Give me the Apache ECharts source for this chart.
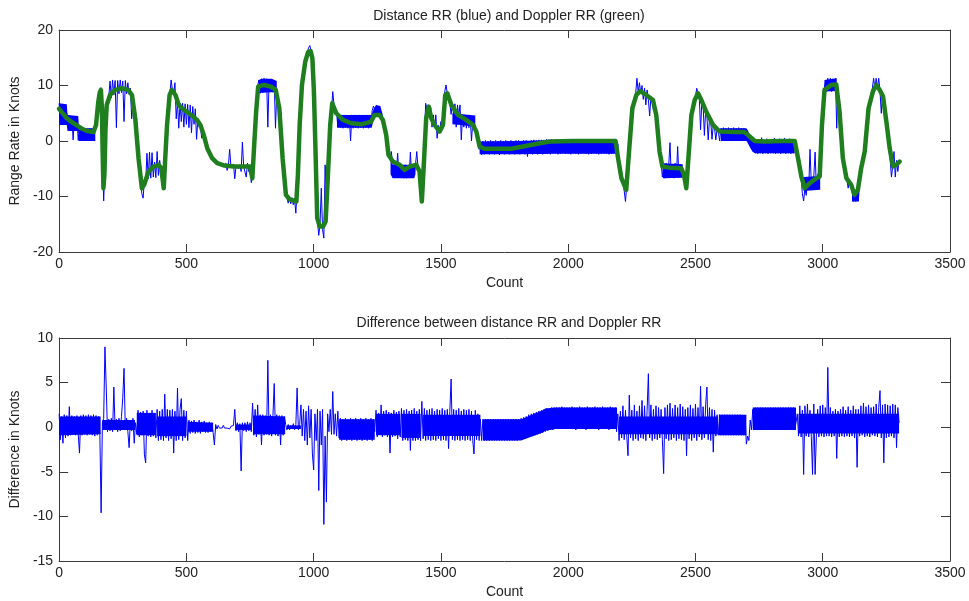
<!DOCTYPE html>
<html>
<head>
<meta charset="utf-8">
<script src="https://cdn.jsdelivr.net/npm/echarts/dist/echarts.min.js"></script>
<style>
html,body{margin:0;padding:0;background:#ffffff;}
#chart{width:969px;height:601px;}
</style>
</head>
<body>
<div id="chart"></div>
<script>
// ---------------- data ----------------
const sampleStep = 5; // counts between samples of the dense series (x = 0, 5, 10 ... 3300)

// Distance range rate (blue), one value per sampleStep counts, 20 values per 100 counts
const distanceRR = [
  6.8, 3.0, 6.5, 3.2, 6.6, 2.9, 5.0, 2.5, 4.6, 1.8, 4.5, 0.2, 4.4, 1.9, 4.2, 0.1, 2.3, 0.2, 2.3, 0.0,
  2.3, 0.1, 2.2, 0.0, 2.3, 0.1, 2.2, 0.0, 2.2, 3.0, 5.5, 7.5, 9.0, 9.6, -3.0, -10.8, -4.5, 4.5, 7.2, 8.0,
  10.8, 7.8, 11.0, 8.3, 10.9, 2.4, 10.9, 8.5, 11.0, 8.7, 10.8, 3.5, 10.9, 8.5, 10.5, 8.4, 9.5, 4.0, 7.0, 5.5,
  3.5, 0.5, -2.0, -5.0, -7.2, -9.5, -10.3, -7.0, -7.5, -2.2, -6.8, -2.0, -6.7, -2.1, -6.5, -3.8, -6.6, -1.9, -6.2, -3.5,
  -5.5, -6.5, -8.8, -5.5, 0.0, 4.0, 7.0, 8.5, 11.0, 9.2, 8.6, 10.5, 4.0, 7.0, 2.3, 6.8, 3.5, 6.8, 2.5, 6.7,
  3.0, 6.6, 2.4, 6.5, 1.5, 6.2, 3.0, 5.8, 0.3, 4.0, 2.5, 2.9, 0.5, 1.5, 0.8, -0.3, -1.2, -1.8, -2.3, -2.7,
  -3.1, -3.4, -3.6, -3.8, -4.0, -4.1, -4.2, -4.3, -4.4, -4.4, -4.5, -4.0, -5.3, -4.4, -1.5, -4.6, -4.8, -4.2, -6.8, -4.5,
  -4.2, -5.0, -4.3, -5.5, -0.2, -4.6, -4.5, -6.5, -4.0, -5.5, -4.6, -7.5, -6.0, -1.0, 3.0, 6.0, 10.0, 11.0, 8.6, 11.2,
  8.7, 11.3, 8.8, 11.2, 2.5, 11.0, 8.9, 11.1, 8.8, 10.8, 2.3, 9.0, 7.5, 5.5, 1.5, -1.0, -4.5, -7.0, -9.5, -10.2,
  -11.2, -10.0, -11.3, -10.2, -11.5, -10.5, -13.0, -8.5, -4.0, 2.9, 7.5, 10.5, 12.5, 14.0, 15.0, 16.0, 16.8, 17.2, 17.0, 15.0,
  10.0, 2.0, -8.0, -14.5, -17.0, -15.0, -8.5, -16.0, -17.5, -4.3, -11.0, -6.5, -3.0, 2.0, 5.5, 8.9, 6.5, 4.7, 5.2, 2.5,
  4.7, 2.4, 4.7, 2.3, 4.7, 2.4, 4.7, 2.3, 4.6, 0.0, 4.7, 2.3, 4.7, 2.4, 4.7, 2.3, 4.7, 2.4, 4.7, 2.3,
  4.7, 2.4, 4.7, 2.3, 4.7, 3.0, 5.5, 6.3, 6.5, 5.0, 6.3, 5.0, 5.8, 4.5, 4.2, 3.0, 2.0, 0.8, -1.0, -2.8,
  -3.3, -1.9, -3.8, -5.0, -4.0, -5.5, -2.2, -6.0, -4.3, -6.5, -4.4, -6.7, -4.3, -6.7, -4.5, -6.6, -2.0, -6.5, -4.3, -6.0,
  -4.3, -1.9, -4.8, -5.6, -8.0, -10.9, -6.0, 0.5, 6.8, 5.8, 6.2, 4.3, 6.0, 2.5, 4.7, 2.4, 4.7, 0.5, 2.8, 1.7,
  3.5, 2.0, 5.0, 8.9, 10.1, 8.6, 7.8, 6.8, 4.8, 6.8, 4.7, 6.7, 2.5, 6.5, 4.6, 6.5, 0.2, 4.7, 2.5, 4.7,
  2.3, 4.6, 2.4, 4.5, 0.0, 3.5, 2.3, 2.8, 1.0, -0.5, -1.5, 0.0, -2.5, 0.0, -2.4, 0.1, -2.3, 0.0, -2.4, 0.1,
  -2.3, 0.0, -2.4, 0.1, -2.3, 0.0, -2.5, 0.1, -2.3, 0.0, -2.4, 0.1, -2.3, 0.0, -2.4, 0.1, -2.3, 0.0, -2.4, 0.1,
  -2.3, 0.1, -2.4, 0.0, -2.3, 0.1, -2.4, 0.1, -2.8, 0.0, -2.3, 0.1, -2.4, 0.2, -2.3, 0.1, -2.4, 0.2, -2.3, 0.2,
  -2.4, 0.2, -2.3, 0.3, -2.3, 0.2, -2.4, 0.3, -2.2, 0.2, -2.3, 0.3, -2.4, 0.2, -2.3, 0.3, -2.2, 0.2, -2.3, 0.3,
  -2.3, 0.2, -2.4, 0.3, -2.2, 0.2, -2.3, 0.3, -2.4, 0.2, -2.3, 0.3, -2.2, 0.2, -2.3, 0.3, -2.4, 0.2, -2.3, 0.3,
  -2.2, 0.2, -2.3, 0.3, -2.4, 0.2, -2.3, 0.3, -2.2, 0.2, -2.3, 0.3, -2.4, 0.2, -2.3, 0.3, -2.2, 0.2, -2.3, -0.5,
  -4.0, -5.5, -7.0, -7.5, -9.0, -10.9, -8.0, -5.0, -1.0, 2.5, 5.5, 7.0, 8.0, 8.5, 11.3, 8.8, 10.5, 8.5, 10.0, 7.5,
  9.5, 6.5, 9.2, 7.5, 4.5, 8.0, 7.2, 5.5, 6.5, 4.0, 1.5, -0.5, -2.5, -4.0, -6.5, -4.2, -6.7, -4.0, -6.5, -4.3,
  -0.3, -6.6, -4.2, -6.7, -4.0, -6.5, -1.0, -6.6, -4.2, -6.0, -5.5, -6.5, -7.5, -8.8, -5.0, -1.5, 2.5, 5.0, 6.5, 7.2,
  8.0, 9.5, 8.6, 8.0, 2.0, 7.0, 6.5, 1.0, 5.5, 4.5, 0.2, 4.0, 3.5, 0.3, 2.9, 2.3, 0.2, 2.2, 1.7, 0.0,
  2.3, 0.0, 2.4, 0.0, 2.3, 0.1, 2.4, 0.0, 2.3, 0.0, 2.4, 0.1, 2.3, 0.0, 2.4, 0.1, 2.3, 0.0, 2.3, 0.2,
  2.0, 0.0, 1.2, -0.8, 0.3, -1.8, 0.2, -2.2, 0.3, -2.3, 0.2, -2.2, 0.6, -2.3, 0.2, -2.2, 0.4, -2.3, 0.2, -2.2,
  0.3, -2.2, 0.5, -2.3, 0.2, -2.2, 0.4, -2.3, 0.2, -2.2, 0.5, -2.3, 0.2, -2.2, 0.4, -2.3, 0.2, -2.2, 0.1, -1.5,
  -2.5, -4.0, -5.5, -6.5, -9.5, -10.8, -8.5, -9.8, -6.8, -8.5, -1.5, -7.5, -8.8, -6.3, -2.0, -8.5, -6.0, -8.5, -1.9, -2.0,
  5.0, 9.0, 11.0, 8.9, 11.3, 9.0, 11.3, 8.9, 11.2, 9.0, 11.3, 2.3, 9.5, 5.0, 2.0, -1.0, -3.5, -5.0, -6.0, -7.0,
  -8.5, -7.0, -8.0, -9.0, -10.9, -9.0, -10.9, -9.2, -10.8, -7.5, -5.5, -3.0, -2.5, -1.0, 2.5, 4.5, 6.0, 7.0, 8.5, 9.5,
  11.3, 9.5, 11.3, 9.5, 11.3, 9.0, 5.0, 8.5, 7.5, 4.0, 3.0, 0.5, -1.5, -3.5, -6.5, -4.5, -1.9, -6.5, -3.5, -5.5,
  -3.5
];

// Envelope of the densely oscillating parts of the distance trace: [count, low, high]
const distanceBands = [
  [[0,2.9,6.8],[30,2.9,6.6],[33,1.8,4.7],[75,1.8,4.5],[78,0.0,2.3],[142,0.0,2.3]],
  [[785,8.6,11.0],[795,8.7,11.2],[835,8.8,11.2],[855,8.8,10.8]],
  [[1092,2.4,4.7],[1228,2.4,4.7],[1236,4.0,5.8],[1245,4.5,6.5],[1262,4.5,6.3],[1272,3.8,4.6]],
  [[1302,-6.0,-3.6],[1310,-6.7,-4.3],[1395,-6.7,-4.3],[1400,-6.0,-4.3]],
  [[1545,3.0,5.0],[1635,2.6,4.6]],
  [[1652,-2.4,-0.1],[1800,-2.4,0.0],[1950,-2.3,0.2],[2190,-2.3,0.2]],
  [[2372,-6.7,-4.0],[2450,-6.6,-4.2]],
  [[2600,0.0,2.3],[2700,0.0,2.3],[2705,-0.3,2.0],[2715,-1.2,1.0],[2725,-2.0,0.3],[2735,-2.2,0.2],[2890,-2.2,0.2]],
  [[2925,-9.0,-6.5],[2990,-8.8,-6.3]],
  [[3008,8.9,11.0],[3055,9.0,11.3]],
  [[3115,-10.9,-9.0],[3142,-10.9,-9.0]]
];

// Doppler range rate (green), [count, knots]
const dopplerRR = [
  [0,5.8],[10,5.2],[30,4.1],[50,3.4],[70,2.8],[90,2.2],[110,1.8],[135,1.6],[145,2.9],[154,7.1],
  [160,8.8],[164,9.2],[168,6],[171,-2],[174,-8.5],[178,-6],[182,2],[187,6.5],[200,8.3],[220,9.2],
  [246,9.5],[272,9.2],[286,8.3],[299,4.1],[312,-3.1],[325,-8.5],[334,-7.9],[351,-5.5],[371,-4.6],[391,-4.3],
  [401,-4.9],[407,-7],[411,-8.5],[417,-3],[424,2.9],[434,8.3],[443,9.2],[457,8.3],[470,6.5],[490,5.6],
  [516,4.8],[542,3.8],[555,2.9],[568,1.1],[582,-1.3],[601,-3.1],[621,-4.0],[647,-4.4],[687,-4.6],[726,-4.6],
  [750,-4.6],[759,-6.7],[766,-1],[774,5.3],[782,9.8],[805,10.1],[832,9.8],[851,9.2],[865,5.9],[878,-3.1],
  [891,-9.7],[905,-10.5],[932,-10.9],[938,-6.1],[945,2.9],[954,10.1],[967,14.3],[978,16.0],[988,16.2],[995,14.9],
  [1001,8.9],[1008,-3.1],[1014,-13.9],[1024,-15.4],[1037,-15.4],[1047,-14.5],[1056,-6.1],[1065,2.9],[1073,6.8],[1089,5.0],
  [1115,3.8],[1148,3.2],[1187,3.0],[1226,3.5],[1239,4.7],[1259,4.7],[1272,3.8],[1285,1.1],[1294,-2.5],[1311,-3.7],
  [1338,-4.3],[1357,-5.2],[1377,-4.6],[1403,-4.3],[1416,-5.5],[1425,-10.9],[1433,-4],[1442,4.1],[1452,6.2],[1462,4.1],
  [1475,2.9],[1495,1.7],[1508,2.9],[1517,8.3],[1525,8.6],[1541,6.5],[1567,4.7],[1599,3.8],[1626,2.9],[1639,1.7],
  [1652,-1.0],[1671,-1.4],[1776,-1.4],[1822,-1.0],[1888,-0.4],[1927,-0.1],[2019,0],[2186,0],[2196,-3.1],[2209,-6.7],
  [2228,-8.8],[2239,-1.9],[2252,5.9],[2268,8.3],[2283,9.0],[2307,8.3],[2333,7.4],[2346,4.7],[2359,-1.9],[2370,-4.6],
  [2398,-4.8],[2444,-4.9],[2455,-6.1],[2464,-8.5],[2474,-1.9],[2484,4.7],[2497,7.4],[2510,8.6],[2523,7.4],[2542,5.3],
  [2569,2.9],[2595,1.7],[2660,1.6],[2693,1.6],[2713,0.8],[2733,0],[2772,-0.1],[2837,0],[2890,0],[2903,-3.1],
  [2916,-6.4],[2929,-8.5],[2949,-7.6],[2975,-6.7],[2988,-6.4],[2997,2.9],[3007,9.2],[3034,10.1],[3053,10.2],[3066,5.3],
  [3079,-3.1],[3093,-6.7],[3112,-7.9],[3125,-9.7],[3138,-8.8],[3151,-4.9],[3165,-1.9],[3180,5.9],[3197,8.9],[3210,10.1],
  [3224,9.2],[3237,8.0],[3250,3.5],[3263,-1.3],[3276,-4.6],[3289,-4.3],[3302,-3.7]
];

// Difference between distance RR and Doppler RR, one value per sampleStep counts, 20 values per 100 counts
const differenceRR = [
  1.5, -1.4, 1.2, -1.8, 1.4, -1.2, 1.3, -1.0, 2.3, -0.9, 1.3, -0.8, 1.2, -0.9, 1.3, -0.8, -2.9, 1.3, -0.9, 1.4,
  -0.8, 1.3, -0.9, 1.4, -0.8, 1.3, -0.9, 1.4, -1.0, 1.3, -0.9, 1.2, -0.8, -9.6, 0.5, 1.0, 9.0, 4.5, -0.5, 0.9,
  -0.4, 1.0, -0.5, 4.5, -0.3, 0.9, -0.5, 1.0, -0.4, 1.2, 3.3, 6.6, -0.3, 1.0, -0.5, -2.3, 0.8, -0.4, 1.0, -1.8,
  0.5, -0.8, 1.9, -1.1, 1.7, -0.9, 1.8, -3.1, -4.0, 1.9, -1.0, 1.6, -1.1, 1.9, -1.0, 1.5, -1.2, 2.0, -1.5, 1.8,
  -1.4, 2.0, -1.5, 3.7, -1.2, 2.0, -1.5, 1.9, -1.3, 2.0, -2.9, 1.8, -1.5, 4.4, -1.4, 2.0, 3.2, -1.5, 1.9, -1.2,
  1.8, -1.5, 0.8, -0.7, 0.7, -0.6, 0.8, -0.7, 0.6, -0.6, 0.8, -0.7, 0.6, -0.5, 0.7, -0.6, 0.5, -0.6, 0.6, -0.5,
  0.5, -0.6, -2.0, 0.3, -0.2, 0.2, -0.1, 0.1, -0.1, 0.2, -0.1, 0.1, -0.1, 0.1, -0.2, 0.1, -0.1, 0.2, 2.0, -0.4,
  0.5, -0.5, 0.4, -4.9, 0.5, -0.4, 0.5, -0.5, 0.6, -0.4, 0.5, -0.5, 2.7, -0.9, 2.0, -1.1, 2.5, -0.8, 1.4, -2.0,
  1.4, -0.9, 1.3, -0.8, 7.5, -0.9, 1.4, -1.0, 1.3, 4.9, -0.9, 1.4, -1.0, 1.3, -2.0, 1.3, -0.9, 1.2, 0.3, -0.3,
  0.3, -0.3, 0.2, -0.2, 0.4, -0.3, 0.3, 4.4, -0.3, 0.3, 2.5, -1.0, 2.0, -1.5, 1.8, -2.0, 2.4, -1.2, 2.0, -3.0,
  -4.8, 1.5, -1.5, 2.0, -7.1, 1.8, -2.0, 2.0, -10.9, -1.0, -8.4, 1.5, -0.5, 2.0, -0.8, 4.0, -0.8, 1.5, -1.0, 1.8,
  -1.2, 1.0, -1.5, 0.9, -1.4, 1.0, -1.5, 0.9, -1.4, 1.0, -1.5, 0.9, -1.4, 1.0, -1.5, 0.9, -1.4, 1.0, -1.5, 0.9,
  -1.4, 1.0, -1.5, 0.9, -1.4, 1.0, -1.5, 0.9, -0.5, 1.9, -1.1, 1.6, -0.8, 2.5, -1.1, 1.8, -0.9, 1.9, -1.1, 1.7,
  -2.9, 1.6, -1.1, 1.9, -1.0, 1.7, -1.3, 1.8, -1.1, 2.1, -1.5, 1.9, -1.4, 2.0, -1.5, 1.8, -2.6, 1.9, -1.5, 2.1,
  -1.5, 1.8, -1.4, 2.0, -1.5, 2.9, -1.3, 2.1, -1.5, 1.9, -1.4, 2.0, -1.5, 2.1, -1.4, 1.8, -1.5, 2.0, -1.3, 1.9,
  -1.5, 2.1, -1.4, 1.9, -1.5, 2.0, -2.4, 1.8, 5.4, -1.4, 2.0, -1.5, 1.9, -1.4, 2.1, -1.5, 1.8, -1.4, 2.0, -1.5,
  1.9, -1.4, 2.0, -1.5, 1.8, -1.5, -3.0, 1.9, -1.4, 1.5, -1.5, 0.9, -1.5, 0.9, -1.5, 0.9, -1.5, 0.9, -1.5, 0.9,
  -1.5, 0.9, -1.5, 0.9, -1.5, 0.9, -1.5, 0.9, -1.5, 0.9, -1.5, 0.9, -1.5, 0.9, -1.5, 0.9, -1.5, 0.9, -1.5, 0.9,
  -1.5, 0.9, -1.4, 1.0, -1.4, 1.1, -1.3, 1.2, -1.2, 1.4, -1.1, 1.5, -1.0, 1.6, -0.9, 1.7, -0.8, 1.8, -0.7, 1.9,
  -0.6, 2.0, -0.5, 2.1, -0.4, 2.1, -0.3, 2.2, -0.3, 2.2, -0.2, 2.2, -0.2, 2.2, -0.2, 2.3, -0.2, 2.2, -0.2, 2.2,
  -0.2, 2.2, -0.2, 2.3, -0.2, 2.2, -0.3, 2.2, -0.2, 2.3, -0.2, 2.2, -0.2, 2.2, -0.3, 2.3, -0.2, 2.2, -0.2, 2.2,
  -0.2, 2.3, -0.2, 2.2, -0.3, 2.2, -0.2, 2.3, -0.2, 2.2, -0.2, 2.2, -0.3, 2.3, -0.2, 2.2, -0.2, 2.2, -0.5, 1.5,
  -1.5, 1.8, -1.2, 2.4, -1.4, 1.9, -1.0, -3.2, 3.6, -1.2, 1.9, -1.5, 2.5, -1.3, 1.8, -1.5, 2.4, -1.2, 3.0, -1.3,
  2.4, -1.5, 1.9, 6.0, -1.2, 2.5, -1.5, 2.0, -1.3, 2.4, -1.4, 2.2, -1.2, 2.0, -1.4, -5.2, 2.2, -1.3, 2.5, -1.5,
  2.7, -1.4, 2.1, -1.2, 2.5, -1.5, 2.2, -1.3, 2.6, -1.4, 2.3, -1.5, 2.0, -3.2, 2.2, -1.3, 2.5, -1.5, 2.1, -1.2,
  2.6, -1.5, 2.2, -1.1, 4.6, -1.4, 2.3, -1.2, 2.5, 4.5, -1.4, 2.2, -1.5, 2.0, -2.8, 1.9, -1.0, 1.4, -0.9, 1.4,
  -0.9, 1.4, -0.9, 1.4, -0.9, 1.4, -0.9, 1.4, -0.9, 1.4, -0.9, 1.4, -0.9, 1.4, -0.9, 1.4, -0.9, 1.3, -0.9, 1.3,
  -1.9, -1.0, -1.5, 0.8, -0.3, 2.0, -0.3, 2.2, -0.3, 2.2, -0.2, 2.2, -0.3, 2.2, -0.2, 2.2, -0.3, 2.2, -0.2, 2.2,
  -0.3, 2.2, -0.2, 2.2, -0.3, 2.2, -0.2, 2.2, -0.3, 2.2, -0.2, 2.2, -0.3, 2.2, -0.2, 2.2, -0.3, 2.2, -0.2, 0.5,
  1.5, -1.0, 2.4, -1.1, 1.9, -5.3, 2.4, -1.0, 2.6, -1.1, 1.9, -1.0, -5.3, 2.6, -5.3, -1.0, 2.0, -1.1, 2.4, -1.0,
  2.5, -1.1, 2.2, -1.0, 6.7, -1.0, 2.2, -1.1, 1.8, -1.0, 2.0, -3.5, 1.8, -1.1, 2.0, -1.0, 2.3, -1.1, 1.9, -1.0,
  2.3, -1.1, 1.9, -1.0, 2.4, -1.2, 2.0, -4.5, 2.0, -1.0, 2.4, -0.9, 2.7, -1.1, 2.3, -1.0, 2.5, -1.1, 2.2, -0.9,
  2.3, -1.0, 2.6, -1.1, 2.2, 4.1, -1.2, 2.5, -4.0, 2.6, -1.2, 2.5, -1.1, 2.4, -1.0, 2.6, -1.2, 2.5, -2.3, 2.2,
  0.5
];

// Solid core of the densely oscillating parts of the difference trace: [count, low, high]
const differenceBands = [
  [[0,-0.9,1.2],[163,-0.8,1.2]],
  [[170,-0.3,0.8],[298,-0.3,0.8]],
  [[305,-0.9,1.6],[380,-0.9,1.6]],
  [[385,-1.0,1.2],[500,-1.0,1.2]],
  [[505,-0.5,0.6],[605,-0.5,0.5]],
  [[692,-0.3,0.3],[755,-0.3,0.3]],
  [[762,-0.8,1.3],[888,-0.8,1.2]],
  [[895,-0.2,0.2],[950,-0.2,0.2]],
  [[1100,-1.4,0.9],[1240,-1.4,0.9]],
  [[1245,-0.9,1.5],[1340,-0.9,1.5]],
  [[1345,-1.2,1.5],[1420,-1.2,1.5]],
  [[1430,-1.0,1.4],[1655,-1.0,1.4]],
  [[1665,-1.5,0.9],[1815,-1.5,0.9],[1900,-0.6,1.9],[1910,-0.4,2.1],[1950,-0.2,2.2],[2192,-0.2,2.2]],
  [[2200,-0.8,1.2],[2588,-0.8,1.2]],
  [[2592,-0.9,1.4],[2700,-0.9,1.4]],
  [[2725,-0.3,2.2],[2895,-0.3,2.2]],
  [[2905,-0.7,1.5],[3300,-0.7,1.5]]
];

const topTitle = 'Distance RR (blue) and Doppler RR (green)';
const bottomTitle = 'Difference between distance RR and Doppler RR';
const xName = 'Count';
const topYName = 'Range Rate in Knots';
const bottomYName = 'Difference in Knots';
const xRange = { min: 0, max: 3500, interval: 500 };
const topYRange = { min: -20, max: 20, interval: 10 };
const bottomYRange = { min: -15, max: 10, interval: 5 };

// ---------------- chart ----------------
const FONT = '"Liberation Sans", Arial, Helvetica, sans-serif';
const TEXT = '#222222';
const AXIS = '#3a3a3a';
const BLUE = '#0000ff';
const plain = v => String(v);

function xAxisDef(gridIndex, position, withLabels) {
  return {
    type: 'value', gridIndex, position,
    min: xRange.min, max: xRange.max, interval: xRange.interval,
    name: withLabels ? xName : '', nameLocation: 'middle', nameGap: 24,
    nameTextStyle: { fontFamily: FONT, fontSize: 14, color: TEXT },
    axisLine: { show: true, onZero: false, lineStyle: { color: AXIS, width: 1 } },
    axisTick: { show: true, inside: true, length: 8, lineStyle: { color: AXIS, width: 1 } },
    axisLabel: { show: withLabels, margin: 5, fontFamily: FONT, fontSize: 14, color: TEXT,
                 showMinLabel: true, showMaxLabel: true, formatter: plain },
    splitLine: { show: false }
  };
}
function yAxisDef(gridIndex, position, range, name, withLabels) {
  return {
    type: 'value', gridIndex, position,
    min: range.min, max: range.max, interval: range.interval,
    name: withLabels ? name : '', nameLocation: 'middle', nameGap: 30, nameRotate: 90,
    nameTextStyle: { fontFamily: FONT, fontSize: 14, color: TEXT },
    axisLine: { show: true, onZero: false, lineStyle: { color: AXIS, width: 1 } },
    axisTick: { show: true, inside: true, length: 9, lineStyle: { color: AXIS, width: 1 } },
    axisLabel: { show: withLabels, margin: 6, fontFamily: FONT, fontSize: 14, color: TEXT,
                 showMinLabel: true, showMaxLabel: true, formatter: plain },
    splitLine: { show: false }
  };
}
function bandSeries(bands, xAxisIndex, yAxisIndex) {
  return {
    type: 'custom', xAxisIndex, yAxisIndex, z: 1, silent: true, clip: true,
    data: bands.map(b => [b[0][0], b[0][1]]),
    encode: { x: 0, y: 1 },
    renderItem: (params, api) => {
      const b = bands[params.dataIndex];
      const upper = b.map(p => api.coord([p[0], p[2]]));
      const lower = b.slice().reverse().map(p => api.coord([p[0], p[1]]));
      return { type: 'polygon', shape: { points: upper.concat(lower) }, style: { fill: BLUE } };
    }
  };
}

const chart = echarts.init(document.getElementById('chart'), null, { renderer: 'canvas' });
chart.setOption({
  animation: false,
  backgroundColor: '#ffffff',
  title: [
    { text: topTitle, left: 504, top: 4, textAlign: 'center',
      textStyle: { fontFamily: FONT, fontSize: 14, fontWeight: 'normal', color: TEXT } },
    { text: bottomTitle, left: 504, top: 311, textAlign: 'center',
      textStyle: { fontFamily: FONT, fontSize: 14, fontWeight: 'normal', color: TEXT } }
  ],
  grid: [
    { left: 58, top: 30, width: 892, height: 222 },
    { left: 58, top: 338, width: 892, height: 223 }
  ],
  xAxis: [
    xAxisDef(0, 'bottom', true),
    xAxisDef(0, 'top', false),
    xAxisDef(1, 'bottom', true),
    xAxisDef(1, 'top', false)
  ],
  yAxis: [
    yAxisDef(0, 'left', topYRange, topYName, true),
    yAxisDef(0, 'right', topYRange, topYName, false),
    yAxisDef(1, 'left', bottomYRange, bottomYName, true),
    yAxisDef(1, 'right', bottomYRange, bottomYName, false)
  ],
  series: [
    bandSeries(distanceBands, 0, 0),
    { name: 'Distance RR', type: 'line', xAxisIndex: 0, yAxisIndex: 0,
      data: distanceRR.map((v, i) => [i * sampleStep, v]),
      symbol: 'none', z: 2,
      lineStyle: { color: BLUE, width: 1 } },
    { name: 'Doppler RR', type: 'line', xAxisIndex: 0, yAxisIndex: 0,
      data: dopplerRR,
      symbol: 'none', z: 3,
      lineStyle: { color: '#1f7f1f', width: 4.5, join: 'round', cap: 'round' } },
    bandSeries(differenceBands, 2, 2),
    { name: 'Difference', type: 'line', xAxisIndex: 2, yAxisIndex: 2,
      data: differenceRR.map((v, i) => [i * sampleStep, v]),
      symbol: 'none', z: 2,
      lineStyle: { color: BLUE, width: 1 } }
  ]
});
</script>
</body>
</html>
